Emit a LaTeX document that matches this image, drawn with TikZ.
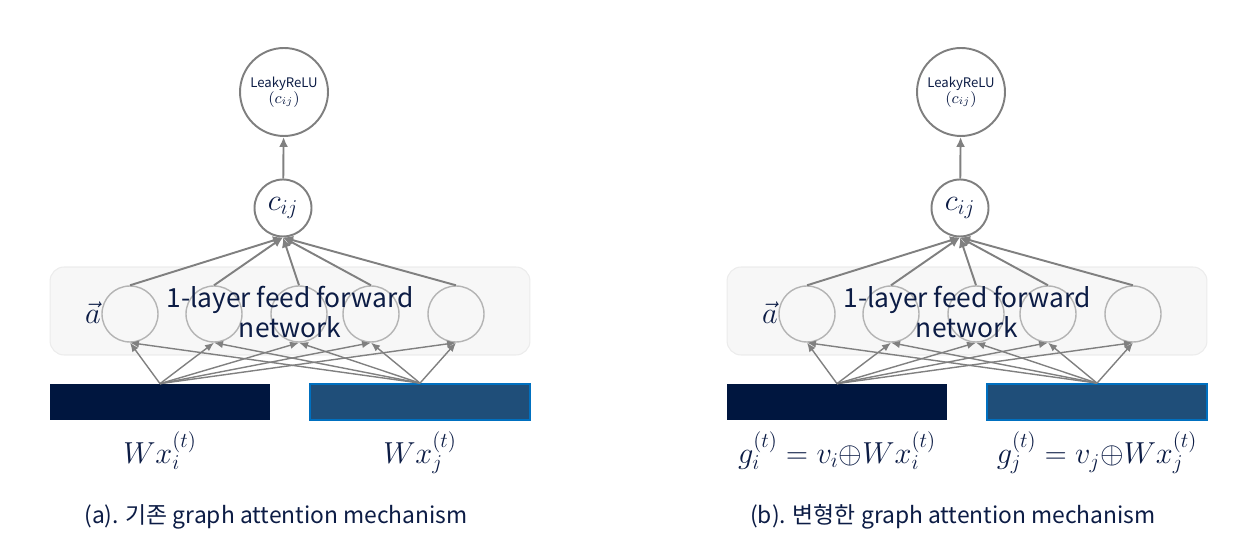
\documentclass[tikz,border=0pt]{standalone}
\usepackage[no-math]{fontspec}
\setmainfont{Noto Sans CJK KR}
\usetikzlibrary{arrows.meta, positioning}
\definecolor{navy}{HTML}{0C1C45}
\definecolor{barnavy}{HTML}{00163F}
\definecolor{barblue}{HTML}{1F4E79}
\definecolor{barline}{HTML}{0070C0}
\definecolor{circgray}{HTML}{7F7F7F}
\definecolor{unitgray}{HTML}{B4B4B4}
\definecolor{arrgray}{HTML}{808080}
\definecolor{boxfill}{HTML}{F7F7F7}
\definecolor{boxline}{HTML}{ECECEC}
\tikzstyle{outcirc} = [circle, draw=circgray, line width=1.1pt, minimum size=1.76cm, inner sep=0pt, align=center, text=navy, font=\fontsize{7.5}{9}\selectfont]
\tikzstyle{cijcirc} = [circle, draw=circgray, line width=1.1pt, minimum size=1.14cm, inner sep=0pt, text=navy, font=\LARGE]
\tikzstyle{unit} = [circle, draw=unitgray, line width=0.8pt, minimum size=1.12cm, inner sep=0pt]
\tikzstyle{layerbox} = [rectangle, rounded corners=8pt, draw=boxline, fill=boxfill, line width=0.6pt, minimum width=9.6cm, minimum height=1.76cm]
\tikzstyle{vecbar} = [rectangle, minimum width=4.4cm, minimum height=0.72cm, inner sep=0pt]
\tikzstyle{arrow} = [line width=1.1pt, draw=arrgray, -{Latex[length=2mm,width=1.8mm]}]
\tikzstyle{thinarrow} = [line width=0.8pt, draw=arrgray, -{Latex[length=1.8mm,width=1.5mm]}]

\begin{document}
\begin{tikzpicture}[x=0.02cm, y=-0.02cm, every node/.style={text=navy}]
    \useasboundingbox (0,0) rectangle (1258,536);
    \foreach \p/\dx/\li/\lj/\cap in {a/0/{$W x_i^{(t)}$}/{$W x_j^{(t)}$}/{(a). 기존 graph attention mechanism},
                                     b/677/{$g_i^{(t)} = v_i{\oplus}W x_i^{(t)}$}/{$g_j^{(t)} = v_j{\oplus}W x_j^{(t)}$}/{(b). 변형한 graph attention mechanism}} {
        \node[layerbox] (\p box) at (\dx+290, 311) {};
        \node[outcirc] (\p out) at (\dx+284, 92) {LeakyReLU\\{\fontsize{9}{10}\selectfont$(c_{ij})$}};
        \node[cijcirc] (\p cij) at (\dx+283, 208) {$c_{ij}$};
        \foreach \k/\ux in {1/130, 2/214, 3/299, 4/371, 5/456}
            \node[unit] (\p u\k) at (\dx+\ux, 314) {};
        \node (\p vec) at (\dx+93, 313) {\LARGE$\vec{a}$};
        \node[vecbar, fill=barnavy] (\p bi) at (\dx+160, 402) {};
        \node[vecbar, fill=barblue, draw=barline, line width=1pt] (\p bj) at (\dx+420, 402) {};
        \node[below=0.1cm of \p bi, font=\LARGE] (\p li) {\li};
        \node[below=0.1cm of \p bj, font=\LARGE] (\p lj) {\lj};
        \node[font=\fontsize{13}{15}\selectfont] (\p cap) at (\dx+276, 517) {\cap};

        % connections
        \draw[arrow] (\p cij) -- (\p out);
        \foreach \k in {1,...,5} {
            \draw[arrow] (\p u\k.north) -- (\p cij.south);
            \draw[thinarrow] (\p bi.north) -- (\p u\k.south);
            \draw[thinarrow] (\p bj.north) -- (\p u\k.south);
        }
        \node[align=center, font=\fontsize{15}{17}\selectfont] (\p ffn) at (\dx+290, 312) {1-layer feed forward\\network};
    }
\end{tikzpicture}
\end{document}
